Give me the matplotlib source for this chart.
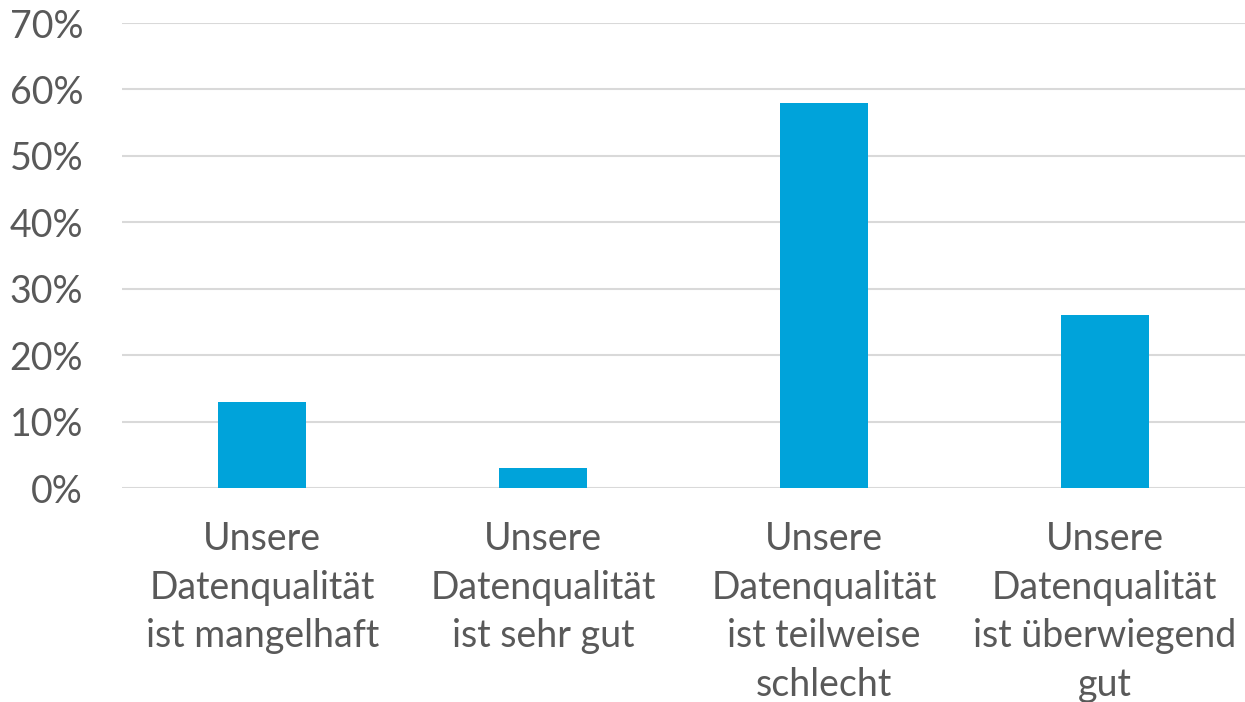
import numpy as np
import matplotlib.pyplot as plt
from matplotlib.ticker import PercentFormatter

# Survey answers on data quality
categories = [
    "Unsere\nDatenqualität\nist mangelhaft",
    "Unsere\nDatenqualität\nist sehr gut",
    "Unsere\nDatenqualität\nist teilweise\nschlecht",
    "Unsere\nDatenqualität\nist überwiegend\ngut",
]
shares = [13, 3, 58, 26]
y_ticks = [0, 10, 20, 30, 40, 50, 60, 70]

plt.rcParams['font.family'] = ['Lato', 'DejaVu Sans']

fig = plt.figure(figsize=(12.45, 7.02), dpi=100)
ax = fig.add_axes([0.098, 0.3048, 0.902, 0.6624])

x = np.arange(len(categories))
ax.bar(x, shares, width=0.313, color='#00A3DA', zorder=3)

ax.set_xlim(-0.5, 3.5)
ax.set_ylim(0, 70)
ax.set_yticks(y_ticks)
ax.yaxis.set_major_formatter(PercentFormatter(decimals=0))
ax.set_xticks(x)
ax.set_xticklabels(categories, linespacing=1.43)

ax.grid(axis='y', color='#D9D9D9', linewidth=1.5, zorder=0)
for s in ax.spines.values():
    s.set_visible(False)
ax.tick_params(axis='y', length=0, pad=28, labelsize=27, labelcolor='#595959')
ax.tick_params(axis='x', length=0, pad=24, labelsize=27, labelcolor='#595959')

plt.savefig('out.png', dpi=100)
